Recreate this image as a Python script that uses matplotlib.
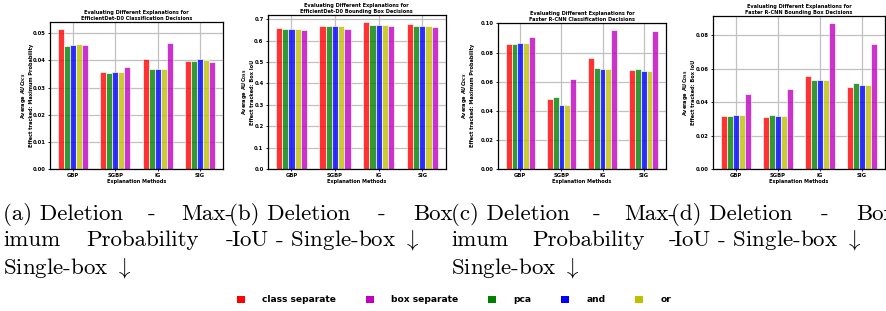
import matplotlib

matplotlib.use("Agg")
import matplotlib.pyplot as plt
import numpy as np
from matplotlib.patches import Patch

W, H = 886, 311

methods = ["GBP", "SGBP", "IG", "SIG"]
series = ["class separate", "pca", "and", "or", "box separate"]
legend_order = ["class separate", "box separate", "pca", "and", "or"]
colors = {
    "class separate": "#ff0000",
    "box separate": "#bf00bf",
    "pca": "#008000",
    "and": "#0000ff",
    "or": "#bfbf00",
}

# values per series, one entry per explanation method
effdet_cls = {
    "class separate": [0.0517, 0.0356, 0.0405, 0.0398],
    "pca": [0.0453, 0.0352, 0.0369, 0.0399],
    "and": [0.0456, 0.0356, 0.0370, 0.0404],
    "or": [0.0459, 0.0356, 0.0370, 0.0402],
    "box separate": [0.0456, 0.0375, 0.0465, 0.0395],
}
effdet_box = {
    "class separate": [0.658, 0.667, 0.685, 0.677],
    "pca": [0.653, 0.666, 0.672, 0.670],
    "and": [0.653, 0.666, 0.672, 0.670],
    "or": [0.653, 0.666, 0.672, 0.670],
    "box separate": [0.651, 0.656, 0.669, 0.662],
}
frcnn_cls = {
    "class separate": [0.0858, 0.0481, 0.0762, 0.0680],
    "pca": [0.0858, 0.0494, 0.0691, 0.0684],
    "and": [0.0863, 0.0437, 0.0689, 0.0673],
    "or": [0.0863, 0.0437, 0.0689, 0.0673],
    "box separate": [0.0908, 0.0616, 0.0957, 0.0945],
}
frcnn_box = {
    "class separate": [0.0316, 0.0313, 0.0558, 0.0493],
    "pca": [0.0317, 0.0321, 0.0534, 0.0515],
    "and": [0.0323, 0.0317, 0.0530, 0.0505],
    "or": [0.0323, 0.0317, 0.0530, 0.0505],
    "box separate": [0.0449, 0.0481, 0.0871, 0.0750],
}

titles = [
    "Evaluating Different Explanations for\nEfficientDet-D0 Classification Decisions",
    "Evaluating Different Explanations for\nEfficientDet-D0 Bounding Box Decisions",
    "Evaluating Different Explanations for\nFaster R-CNN Classification Decisions",
    "Evaluating Different Explanations for\nFaster R-CNN Bounding Box Decisions",
]
ylabels = [
    "Average $AUC_{DCS}$\nEffect tracked: Maximum Probability",
    "Average AUC$_{\\mathrm{DSS}}$\nEffect tracked: Box IoU",
    "Average $AUC_{DCS}$\nEffect tracked: Maximum Probability",
    "Average AUC$_{\\mathrm{DSS}}$\nEffect tracked: Box IoU",
]

# axes boxes in pixels: left, right, top, bottom
boxes = [(50, 223, 21.7, 169), (267.7, 446, 15, 169), (498, 666, 22.7, 169), (713, 885, 16, 169)]
label_x = [-0.095, -0.071, -0.137, -0.099]

plt.rcParams["font.family"] = "DejaVu Sans"
plt.rcParams["font.weight"] = "bold"
plt.rcParams["axes.unicode_minus"] = False
plt.rcParams["mathtext.fontset"] = "dejavusans"

fig = plt.figure(figsize=(W / 100, H / 100), dpi=100)

width = 0.143
x = np.arange(len(methods))
for i, data in enumerate([effdet_cls, effdet_box, frcnn_cls, frcnn_box]):
    l, r, t, b = boxes[i]
    ax = fig.add_axes([l / W, (H - b) / H, (r - l) / W, (b - t) / H])
    ax.set_axisbelow(True)
    for k, name in enumerate(series):
        ax.bar(
            x + (k - 2) * width,
            data[name],
            width,
            color=colors[name],
            alpha=0.8,
            edgecolor="white",
            linewidth=0.6,
        )
    ax.set_xticks(x)
    ax.set_xticklabels(methods, fontsize=4, fontweight="bold")
    ax.tick_params(axis="both", labelsize=3.8, length=1.5, width=0.6, pad=1.5)
    for lab in ax.get_yticklabels():
        lab.set_fontweight("bold")
    ax.grid(True, color="#c0c0c0", linewidth=0.9)
    for sp in ax.spines.values():
        sp.set_linewidth(0.9)
    ax.set_title(titles[i], fontsize=3.6, fontweight="bold", pad=1.5, linespacing=1.2)
    ax.set_xlabel("Explanation Methods", fontsize=3.6, fontweight="bold", labelpad=0.5)
    ax.set_ylabel(ylabels[i], fontsize=3.6, fontweight="bold", linespacing=1.2)
    ax.yaxis.set_label_coords(label_x[i], 0.5)

# captions, justified like the LaTeX subcaptions
cap_kw = dict(family="cmr10", fontsize=16.5, fontweight="normal", va="baseline")
renderer = fig.canvas.get_renderer()


def place_line(words, x0, y, x1=None):
    if x1 is None:
        fig.text(x0 / W, (H - y) / H, " ".join(words), **cap_kw)
        return
    texts = [fig.text(0, (H - y) / H, w, **cap_kw) for w in words]
    widths = [t.get_window_extent(renderer).width for t in texts]
    gap = (x1 - x0 - sum(widths)) / (len(words) - 1)
    pos = x0
    for t, w in zip(texts, widths):
        t.set_x(pos / W)
        pos += w + gap


plt.rcParams["mathtext.fontset"] = "cm"
arrow = r"$\downarrow$"
base1, base2, base3 = 220, 246, 273
for x0, x1, tag in [(3, 233, "(a)"), (451, 676, "(c)")]:
    place_line([tag + " Deletion", "-", "Max-"], x0, base1, x1)
    place_line(["imum", "Probability", "-"], x0, base2, x1)
    place_line(["Single-box", arrow], x0, base3)
for x0, x1, tag in [(229, 453, "(b)"), (671, 896, "(d)")]:
    place_line([tag + " Deletion", "-", "Box"], x0, base1, x1)
    place_line(["IoU", "-", "Single-box", arrow], x0 + 2, base2)

handles = [Patch(facecolor=colors[n], edgecolor="none") for n in legend_order]
fig.legend(
    handles,
    legend_order,
    loc="center",
    bbox_to_anchor=(454 / W, 11 / H),
    ncol=5,
    frameon=False,
    prop=dict(family="DejaVu Sans", weight="bold", size=6.6),
    handlelength=0.9,
    handleheight=0.9,
    handletextpad=1.9,
    columnspacing=3.2,
)

fig.savefig("out.png", dpi=100)
